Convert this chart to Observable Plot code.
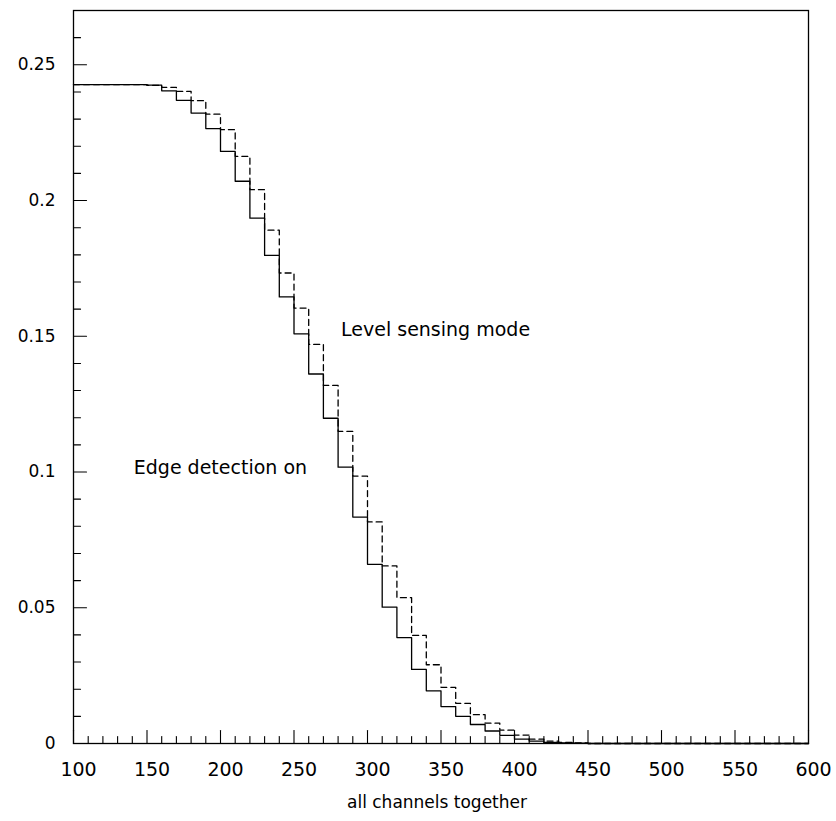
<!DOCTYPE html>
<html>
<head>
<meta charset="utf-8">
<script src="https://cdn.jsdelivr.net/npm/d3@7"></script>
<script src="https://cdn.jsdelivr.net/npm/@observablehq/plot@0.6"></script>
<style>
  body { margin: 0; background: #fff; }
  #chart svg { display: block; }
</style>
</head>
<body>
<div id="chart"></div>
<script>
// Histogram binning along the channel axis
const binStart = 100;
const binWidth = 10;
const binEnd = 600;

// Solid histogram: edge detection on (one value per 10-wide bin, 100..590)
const edgeDetection = [
  0.2427, 0.2427, 0.2427, 0.2427, 0.2427, 0.2425, 0.2404, 0.2369, 0.2322, 0.2265,
  0.2181, 0.2071, 0.1935, 0.1798, 0.1645, 0.1509, 0.1361, 0.1198, 0.1018, 0.0834,
  0.0660, 0.0502, 0.0390, 0.0273, 0.0194, 0.0136, 0.0100, 0.0070, 0.0046, 0.0030,
  0.0016, 0.0009, 0.0004, 0.0002, 0.0001, 0, 0, 0, 0, 0,
  0, 0, 0, 0, 0, 0, 0, 0, 0, 0
];

// Dashed histogram: level sensing mode
const levelSensing = [
  0.2427, 0.2427, 0.2427, 0.2427, 0.2427, 0.2424, 0.2417, 0.2402, 0.2368, 0.2318,
  0.2261, 0.2163, 0.2040, 0.1891, 0.1733, 0.1604, 0.1470, 0.1319, 0.1150, 0.0985,
  0.0816, 0.0654, 0.0537, 0.0398, 0.0290, 0.0207, 0.0148, 0.0106, 0.0075, 0.0049,
  0.0031, 0.0016, 0.0009, 0.0004, 0.0002, 0, 0, 0, 0, 0,
  0, 0, 0, 0, 0, 0, 0, 0, 0, 0
];

// Axis ticks and labels
const xMajorTicks = [100, 150, 200, 250, 300, 350, 400, 450, 500, 550, 600];
const xMinorTicks = [110, 120, 130, 140, 160, 170, 180, 190, 210, 220, 230, 240,
  260, 270, 280, 290, 310, 320, 330, 340, 360, 370, 380, 390, 410, 420, 430, 440,
  460, 470, 480, 490, 510, 520, 530, 540, 560, 570, 580, 590];
const yMajorTicks = [0, 0.05, 0.1, 0.15, 0.2, 0.25];
const yMajorLabels = ["0", "0.05", "0.1", "0.15", "0.2", "0.25"];
const yMinorTicks = [0.01, 0.02, 0.03, 0.04, 0.06, 0.07, 0.08, 0.09, 0.11, 0.12,
  0.13, 0.14, 0.16, 0.17, 0.18, 0.19, 0.21, 0.22, 0.23, 0.24, 0.26];

const xTitle = "all channels together";

// In-plot annotations naming each histogram
const annotationText = ["Level sensing mode", "Edge detection on"];
const annotationX = [282, 141];
const annotationY = [0.1525, 0.1015];
const annotations = annotationText.map((text, i) => ({text, x: annotationX[i], y: annotationY[i]}));

// Turn bin contents into step outline vertices
function stepPoints(values) {
  const pts = values.map((v, i) => ({x: binStart + i * binWidth, y: v}));
  pts.push({x: binEnd, y: values[values.length - 1]});
  return pts;
}

// A plain line segment as a vector shape; ticks point into the frame
const tickShape = {draw(context, l) { context.moveTo(0, 0); context.lineTo(0, -l); }};

function xTicks(values, size) {
  return Plot.vector(values, {x: d => d, frameAnchor: "bottom", length: size, rotate: 0,
    anchor: "start", shape: tickShape, stroke: "black", strokeWidth: 1.1});
}
function yTicks(values, size) {
  return Plot.vector(values, {y: d => d, frameAnchor: "left", length: size, rotate: 90,
    anchor: "start", shape: tickShape, stroke: "black", strokeWidth: 1.1});
}

const font = "DejaVu Sans";

const chart = Plot.plot({
  width: 836,
  height: 821,
  marginLeft: 73,
  marginRight: 28,
  marginTop: 10,
  marginBottom: 78,
  style: {fontFamily: font, background: "white", color: "black"},
  x: {domain: [binStart, binEnd], label: null},
  y: {domain: [0, 0.27], label: null},
  marks: [
    // inward tick marks
    xTicks(xMajorTicks, 13),
    xTicks(xMinorTicks, 7),
    yTicks(yMajorTicks, 13),
    yTicks(yMinorTicks, 7),
    // tick labels
    Plot.axisX(xMajorTicks, {anchor: "bottom", tickSize: 0, tickPadding: 19, dx: 5, fontSize: 19,
      tickFormat: d => String(d), label: null}),
    Plot.axisY(yMajorTicks, {anchor: "left", tickSize: 0, tickPadding: 18, fontSize: 17,
      tickFormat: d => yMajorLabels[yMajorTicks.indexOf(d)], label: null}),
    // histograms
    Plot.line(stepPoints(levelSensing), {x: "x", y: "y", curve: "step-after",
      stroke: "black", strokeWidth: 1.3, strokeDasharray: "6,4"}),
    Plot.line(stepPoints(edgeDetection), {x: "x", y: "y", curve: "step-after",
      stroke: "black", strokeWidth: 1.3}),
    // annotations
    Plot.text(annotations, {x: "x", y: "y", text: "text", textAnchor: "start",
      fontSize: 19, fill: "black"}),
    // x-axis title
    Plot.text([xTitle], {frameAnchor: "bottom", dy: 64, dx: -4, fontSize: 17, fill: "black"}),
    Plot.frame({stroke: "black", strokeWidth: 1.3})
  ]
});

document.getElementById("chart").appendChild(chart);
</script>
</body>
</html>
